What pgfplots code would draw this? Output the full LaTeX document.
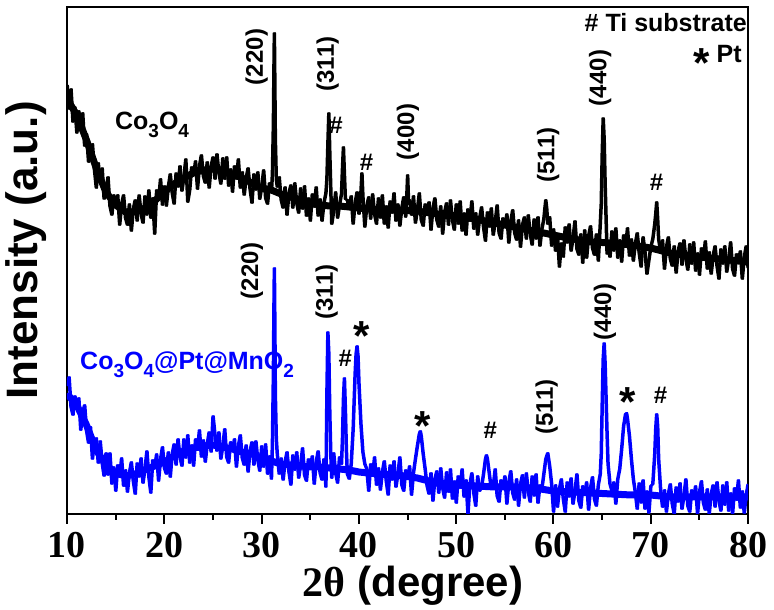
\documentclass[border=0pt]{standalone}
\usepackage{fontspec}
\setmainfont{Liberation Sans}
\newfontfamily\tnr{Liberation Serif}
\usepackage{pgfplots}
\pgfplotsset{compat=1.18}
\definecolor{myblue}{RGB}{0,0,255}
\newcommand\sub[1]{\raisebox{-8pt}{\fontsize{19}{19}\selectfont #1}}
\newcommand\bigast{\fontsize{42}{42}\selectfont *}
\begin{document}
\begin{tikzpicture}
\begin{axis}[
  scale only axis, width=681pt, height=507pt,
  xmin=10, xmax=80, ymin=0, ymax=507,
  clip mode=individual,
  axis line style={line width=2pt},
  xtick={10,20,...,80}, minor xtick={15,25,...,75},
  ytick=\empty,
  xtick pos=bottom,
  tick align=outside,
  major tick length=10pt, minor tick length=6pt,
  every tick/.style={line width=2pt, black},
  /pgf/number format/assume math mode=true,
  xticklabel style={font=\fontsize{38}{38}\selectfont\tnr\bfseries, yshift=-5pt},
  xlabel={{\tnr 2θ} (degree)},
  xlabel style={at={(rel axis cs:0.508,-0.1618)}, anchor=base, font=\fontsize{42}{42}\selectfont\bfseries},
  ylabel={Intensity (a.u.)},
  ylabel style={at={(rel axis cs:-0.044,0.52)}, anchor=base, font=\fontsize{44}{44}\selectfont\bfseries},
  noisy/.style={line width=1.8pt, line join=round,
     preaction={draw, line width=1.8pt, transform canvas={xshift=1pt}},
     postaction={draw, line width=1.4pt, transform canvas={xshift=-0.9pt}}},
  core/.style={line width=7pt, line cap=round, line join=round},
]
% dense middle of the noisy black pattern (its baseline)
\addplot[black, core] coordinates {
(10.2,412)(11,399)(12,374)(13,346)(14,322)(15,309)(16,302)(17,302)(18,306)(19,313)(20,322)
(21,330)(22,336)(23,341)(24,344)(25,345)(26,344)(27,340)(28,336)(29,331)(30,326)
(31,324)(32,320)(33,317)(34,314)(35,311)(36,309)(37,308)(38,308)(39,307)(40,306)
(41,305)(42,304)(43,304)(44,304)(45,303.5)(46,303)(47,301.5)(48,300)(49,299)(50,298)
(51,296.5)(52,295)(53,293)(54,291)(55,289)(56,287)(57,285)(58,283)(59,281)(60,279)
(61,277)(62,275)(63,273.5)(64,272)(65,271.5)(66,271)(67,270)(68,269)(69,267.5)(70,266)
(71,263.5)(72,261)(73,259.5)(74,258)(75,257)(76,256)(77,255)(78,254)(79,253)(80,252)
};
\addplot[black, noisy] coordinates {
(10.0,429)(10.2,405)(10.4,425)(10.6,392)(10.8,407)(11.0,381)(11.2,403)(11.4,386)(11.6,401)(11.8,368)
(12.0,380)(12.2,352)(12.4,365)(12.6,370)(12.8,345)(13.0,326)(13.2,351)(13.4,331)(13.6,346)(13.8,315)
(14.0,323)(14.2,337)(14.4,308)(14.6,299)(14.8,319)(15.0,307)(15.2,319)(15.4,289)(15.6,310)(15.8,319)
(16.0,296)(16.2,289)(16.4,310)(16.6,283)(16.8,305)(17.0,314)(17.2,293)(17.4,319)(17.6,300)(17.8,291)
(18.0,318)(18.2,299)(18.4,324)(18.6,296)(18.8,316)(19.0,280)(19.2,324)(19.4,314)(19.6,335)(19.8,309)
(20.0,328)(20.2,308)(20.4,327)(20.6,340)(20.8,321)(21.0,310)(21.2,341)(21.4,327)(21.6,348)(21.8,323)
(22.0,337)(22.2,355)(22.4,312)(22.6,324)(22.8,347)(23.0,339)(23.2,353)(23.4,325)(23.6,348)(23.8,359)
(24.0,338)(24.2,331)(24.4,352)(24.6,326)(24.8,348)(25.0,357)(25.2,335)(25.4,360)(25.6,341)(25.8,330)
(26.0,356)(26.2,335)(26.4,357)(26.6,328)(26.8,345)(27.0,322)(27.2,348)(27.4,335)(27.6,355)(27.8,326)
(28.0,342)(28.2,319)(28.4,336)(28.6,346)(28.8,325)(29.0,311)(29.2,340)(29.4,324)(29.6,342)(29.8,315)
(30.0,327)(30.2,344)(30.4,316)(30.6,310)(30.8,331)(31.0,322)(31.1,340)(31.2,390)(31.25,440)(31.3,481)(31.35,430)(31.4,375)(31.5,335)(31.6,327)(31.8,337)
(32.0,314)(32.2,306)(32.4,327)(32.6,299)(32.8,321)(33.0,329)(33.2,306)(33.4,331)(33.6,311)(33.8,301)
(34.0,326)(34.2,305)(34.4,328)(34.6,298)(34.8,316)(35.0,293)(35.2,320)(35.4,307)(35.6,327)(35.8,298)
(36.0,315)(36.2,293)(36.4,311)(36.6,321)(36.7,335)(36.8,370)(36.9,401)(37.0,360)(37.1,325)(37.2,290)(37.4,303)(37.6,322)(37.8,296)
(38.0,309)(38.2,320)(38.3,345)(38.4,367)(38.5,340)(38.6,315)(38.8,314)(39.0,305)(39.2,318)(39.4,290)(39.6,311)(39.8,322)
(40.0,300)(40.2,322)(40.3,341)(40.4,318)(40.6,287)(40.8,308)(41.0,317)(41.2,295)(41.4,320)(41.6,300)(41.8,290)
(42.0,316)(42.2,296)(42.4,319)(42.6,290)(42.8,308)(43.0,286)(43.2,313)(43.4,301)(43.6,321)(43.8,293)
(44.0,310)(44.2,288)(44.4,306)(44.6,317)(44.8,297)(44.9,315)(45.0,339)(45.1,310)(45.2,314)(45.4,299)(45.6,318)(45.8,291)
(46.0,304)(46.2,321)(46.4,294)(46.6,288)(46.8,310)(47.0,300)(47.2,312)(47.4,284)(47.6,306)(47.8,316)
(48.0,294)(48.2,287)(48.4,308)(48.6,280)(48.8,302)(49.0,311)(49.2,289)(49.4,314)(49.6,294)(49.8,284)
(50.0,310)(50.2,290)(50.4,313)(50.6,283)(50.8,301)(51.0,279)(51.2,305)(51.4,293)(51.6,313)(51.8,285)
(52.0,301)(52.2,279)(52.4,296)(52.6,307)(52.8,287)(53.0,273)(53.2,302)(53.4,287)(53.6,306)(53.8,279)
(54.0,292)(54.2,309)(54.4,281)(54.6,275)(54.8,296)(55.0,287)(55.2,300)(55.4,271)(55.6,293)(55.8,304)
(56.0,281)(56.2,274)(56.4,294)(56.6,267)(56.8,289)(57.0,297)(57.2,275)(57.4,299)(57.6,280)(57.8,269)
(58.0,295)(58.2,275)(58.4,297)(58.6,268)(58.8,285)(59.0,295)(59.1,305)(59.2,314)(59.3,305)(59.4,290)(59.6,297)(59.8,268)
(60.0,285)(60.2,263)(60.4,280)(60.6,247)(60.8,271)(61.0,257)(61.2,287)(61.4,271)(61.6,290)(61.8,263)
(62.0,276)(62.2,293)(62.4,265)(62.6,259)(62.8,280)(63.0,251)(63.2,284)(63.4,256)(63.6,278)(63.8,288)
(64.0,266)(64.2,259)(64.4,280)(64.6,253)(64.8,290)(64.9,310)(65.0,360)(65.1,396)(65.2,375)(65.3,330)(65.4,295)(65.5,260)(65.6,267)(65.8,257)
(66.0,283)(66.2,263)(66.4,286)(66.6,256)(66.8,274)(67.0,252)(67.2,279)(67.4,267)(67.6,286)(67.8,258)
(68.0,275)(68.2,253)(68.4,270)(68.6,281)(68.8,261)(69.0,247)(69.2,277)(69.4,262)(69.6,240)(69.8,254)
(70.0,267)(70.2,275)(70.4,290)(70.5,300)(70.6,312)(70.7,295)(70.8,275)(71.0,262)(71.2,274)(71.4,245)(71.6,267)(71.8,277)
(72.0,255)(72.2,248)(72.4,268)(72.6,241)(72.8,263)(73.0,271)(73.2,249)(73.4,274)(73.6,255)(73.8,244)
(74.0,270)(74.2,250)(74.4,272)(74.6,243)(74.8,261)(75.0,239)(75.2,266)(75.4,254)(75.6,273)(75.8,245)
(76.0,262)(76.2,240)(76.4,258)(76.6,268)(76.8,248)(77.0,235)(77.2,265)(77.4,250)(77.6,268)(77.8,242)
(78.0,255)(78.2,272)(78.4,245)(78.6,238)(78.8,260)(79.0,251)(79.2,263)(79.4,235)(79.6,257)(79.8,268)(80.0,246)
};
% dense middle of the noisy blue pattern (its baseline)
\addplot[myblue, core] coordinates {
(10.2,118)(11,109)(12,89)(13,64)(14,49)(15,41)(16,38)(17,40)(18,44)(19,48)(20,52)
(21,58)(22,63)(23,66)(24,68)(25,69)(26,67)(27,65)(28,62)(29,60)(30,56)
(31,53)(32,50)(33,49)(34,48)(35,47)(36,47)(37,46)(38,45)(39,44)(40,42)
(41,41)(42,40)(43,39.5)(44,39)(45,37.5)(46,36)(47,33.5)(48,31)(49,30)(50,29)
(51,28.5)(52,28)(53,27.5)(54,27)(55,27)(56,27)(57,26.5)(58,26)(59,24.5)(60,23)
(61,22.5)(62,22)(63,21.5)(64,21)(65,20.5)(66,20)(67,19.5)(68,19)(69,19)(70,19)
(71,18)(72,17)(73,17)(74,17)(75,17)(76,17)(77,17)(78,17)(79,17)(80,17)
};
\addplot[myblue, noisy] coordinates {
(10.0,128)(10.2,137)(10.4,107)(10.6,99)(10.8,118)(11.0,107)(11.2,116)(11.4,84)(11.6,102)(11.8,109)
(12.0,83)(12.2,71)(12.4,87)(12.6,55)(12.8,72)(13.0,76)(13.2,51)(13.4,73)(13.6,51)(13.8,38)
(14.0,61)(14.2,39)(14.4,61)(14.6,30)(14.8,47)(15.0,23)(15.2,49)(15.4,37)(15.6,56)(15.8,28)
(16.0,44)(16.2,22)(16.4,41)(16.6,52)(16.8,33)(17.0,20)(17.2,51)(17.4,37)(17.6,56)(17.8,31)
(18.0,45)(18.2,63)(18.4,37)(18.6,21)(18.8,54)(19.0,46)(19.2,60)(19.4,33)(19.6,55)(19.8,67)
(20.0,46)(20.2,40)(20.4,62)(20.6,37)(20.8,60)(21.0,70)(21.2,49)(21.4,75)(21.6,57)(21.8,48)
(22.0,75)(22.2,56)(22.4,79)(22.6,51)(22.8,69)(23.0,48)(23.2,75)(23.4,64)(23.6,84)(23.8,57)
(24.0,74)(24.2,52)(24.4,70)(24.6,82)(24.8,62)(25.0,98)(25.2,79)(25.4,63)(25.6,82)(25.8,55)
(26.0,68)(26.2,85)(26.4,57)(26.6,51)(26.8,72)(27.0,63)(27.2,75)(27.4,47)(27.6,68)(27.8,79)
(28.0,56)(28.2,49)(28.4,69)(28.6,42)(28.8,63)(29.0,72)(29.2,49)(29.4,73)(29.6,54)(29.8,43)
(30.0,68)(30.2,47)(30.4,70)(30.6,40)(30.8,58)(31.0,35)(31.1,70)(31.2,140)(31.25,200)(31.3,246)(31.35,190)(31.4,120)(31.5,75)(31.6,60)(31.8,40)
(32.0,56)(32.2,34)(32.4,52)(32.6,62)(32.8,42)(33.0,29)(33.2,59)(33.4,44)(33.6,62)(33.8,36)
(34.0,49)(34.2,66)(34.4,39)(34.6,33)(34.8,55)(35.0,45)(35.2,58)(35.4,30)(35.6,52)(35.8,63)
(36.0,41)(36.2,34)(36.4,55)(36.6,27)(36.7,120)(36.8,182)(36.9,160)(37.0,100)(37.1,60)(37.2,36)(37.4,61)(37.6,41)(37.8,31)
(38.0,57)(38.2,50)(38.3,75)(38.4,115)(38.5,136)(38.6,105)(38.7,65)(38.8,40)(39.0,35)(39.2,50)(39.4,85)(39.6,140)(39.7,160)(39.8,168)(39.9,158)
(40.0,130)(40.2,90)(40.4,62)(40.6,50)(40.8,45)(41.0,23)(41.2,50)(41.4,38)(41.6,57)(41.8,29)
(42.0,46)(42.2,24)(42.4,42)(42.6,53)(42.8,33)(43.0,19)(43.2,49)(43.4,34)(43.6,53)(43.8,27)
(44.0,40)(44.2,57)(44.4,29)(44.6,23)(44.8,44)(45.0,35)(45.2,48)(45.4,19)(45.6,41)(45.8,55)
(46.0,68)(46.2,80)(46.3,83)(46.4,78)(46.6,60)(46.8,45)(47.0,28)(47.2,20)(47.4,41)(47.6,13)(47.8,35)
(48.0,43)(48.2,21)(48.4,46)(48.6,26)(48.8,16)(49.0,42)(49.2,22)(49.4,45)(49.6,15)(49.8,33)
(50.0,11)(50.2,38)(50.4,26)(50.6,45)(50.8,17)(51.0,34)(51.2,0)(51.4,30)(51.6,41)(51.8,21)
(52.0,8)(52.2,38)(52.4,23)(52.6,27)(52.8,40)(53.0,55)(53.1,59)(53.2,55)(53.4,40)(53.6,25)(53.8,28)
(54.0,45)(54.2,18)(54.4,12)(54.6,34)(54.8,25)(55.0,38)(55.2,10)(55.4,32)(55.6,43)(55.8,21)
(56.0,14)(56.2,35)(56.4,8)(56.6,30)(56.8,39)(57.0,16)(57.2,41)(57.4,22)(57.6,12)(57.8,38)
(58.0,18)(58.2,40)(58.4,11)(58.6,29)(58.8,25)(59.0,40)(59.2,55)(59.4,61)(59.6,48)(59.8,30)
(60.0,2)(60.2,29)(60.4,7)(60.6,25)(60.8,35)(61.0,15)(61.2,2)(61.4,32)(61.6,17)(61.8,36)
(62.0,10)(62.2,23)(62.4,40)(62.6,13)(62.8,6)(63.0,28)(63.2,19)(63.4,32)(63.6,4)(63.8,26)
(64.0,37)(64.2,15)(64.4,8)(64.6,29)(64.8,40)(64.9,60)(65.0,110)(65.1,155)(65.2,171)(65.3,150)(65.4,115)(65.5,80)(65.6,50)(65.8,30)
(66.0,23)(66.2,32)(66.4,10)(66.6,35)(66.8,45)(67.0,65)(67.2,88)(67.4,100)(67.5,101)(67.6,95)(67.8,78)
(68.0,55)(68.2,35)(68.4,22)(68.6,5)(68.8,31)(69.0,11)(69.2,34)(69.4,5)(69.6,23)(69.8,1)
(70.0,28)(70.2,30)(70.4,60)(70.5,85)(70.6,100)(70.7,88)(70.8,55)(71.0,25)(71.2,7)(71.4,24)(71.6,2)(71.8,20)
(72.0,30)(72.2,10)(72.4,0)(72.6,27)(72.8,12)(73.0,31)(73.2,5)(73.4,18)(73.6,35)(73.8,8)
(74.0,2)(74.2,24)(74.4,15)(74.6,28)(74.8,0)(75.0,22)(75.2,33)(75.4,11)(75.6,4)(75.8,25)
(76.0,0)(76.2,20)(76.4,29)(76.6,7)(76.8,32)(77.0,13)(77.2,3)(77.4,29)(77.6,9)(77.8,32)
(78.0,3)(78.2,21)(78.4,0)(78.6,26)(78.8,14)(79.0,34)(79.2,6)(79.4,23)(79.6,1)(79.8,19)(80.0,30)
};
% black annotations
\begin{scope}[every node/.style={font=\fontsize{24}{24}\selectfont\bfseries, inner sep=0pt}]
\node[rotate=90] at (axis cs:29.5,457) {(220)};
\node[rotate=90] at (axis cs:36.8,450) {(311)};
\node at (axis cs:37.65,389) {\#};
\node at (axis cs:40.8,352) {\#};
\node[rotate=90] at (axis cs:45.05,382) {(400)};
\node[rotate=90] at (axis cs:59.45,359) {(511)};
\node[rotate=90] at (axis cs:64.8,436) {(440)};
\node at (axis cs:70.6,332) {\#};
\node[anchor=base east, font=\fontsize{25}{25}\selectfont\bfseries] at (axis cs:79.9,482) {\# Ti substrate};
\node[anchor=base east, font=\fontsize{25}{25}\selectfont\bfseries] at (axis cs:79.37,451) {\raisebox{-15pt}{\bigast}\ Pt};
\node[anchor=base west, font=\fontsize{25}{25}\selectfont\bfseries] at (axis cs:14.93,384) {Co\sub{3}O\sub{4}};
% blue annotations
\node[rotate=90] at (axis cs:29.0,243) {(220)};
\node[rotate=90] at (axis cs:36.7,222) {(311)};
\node at (axis cs:38.6,156) {\#};
\node[yshift=-9pt] at (axis cs:40.3,187) {\bigast};
\node[anchor=base west, text=myblue, font=\fontsize{25}{25}\selectfont\bfseries] at (axis cs:11.34,144) {Co\sub{3}O\sub{4}@Pt@MnO\sub{2}};
\node[yshift=-9pt] at (axis cs:46.6,97) {\bigast};
\node at (axis cs:53.5,84) {\#};
\node[rotate=90] at (axis cs:59.3,107) {(511)};
\node[rotate=90] at (axis cs:65.3,202) {(440)};
\node[yshift=-9pt] at (axis cs:67.65,121) {\bigast};
\node at (axis cs:71.0,119) {\#};
\end{scope}
\end{axis}
\pgfresetboundingbox
\path (current axis.south west) ++(-67pt,-96pt) rectangle ([shift={(26pt,7pt)}]current axis.north east);
\end{tikzpicture}
\end{document}
